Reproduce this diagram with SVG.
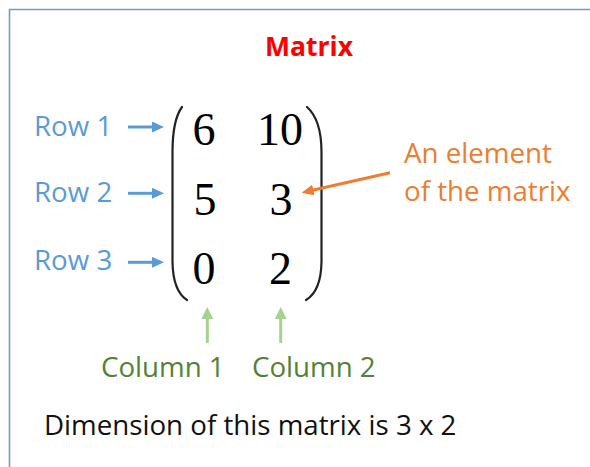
<svg xmlns="http://www.w3.org/2000/svg" width="590" height="467" viewBox="0 0 590 467">
  <style>
    .t { font-family: "Open Sans", "Noto Sans", "Liberation Sans", sans-serif; font-size: 27.7px; }
    .title { font-family: "Open Sans", "Noto Sans", "Liberation Sans", sans-serif; font-size: 26.5px; font-weight: bold; fill: #ff0000; }
    .blue { fill: #5b9bd5; }
    .orange { fill: #ed7d31; }
    .green { fill: #548235; }
    .black { fill: #111111; }
    .num { font-family: "Liberation Serif", "Times New Roman", serif; font-size: 46px; fill: #000000; text-anchor: middle; }
    .paren { fill: none; stroke: #222222; stroke-width: 2.2; stroke-linecap: round; }
    .arrB { stroke: #5b9bd5; stroke-width: 3; fill: none; marker-end: url(#headB); }
    .arrO { stroke: #ed7d31; stroke-width: 3; fill: none; marker-end: url(#headO); }
    .arrG { stroke: #a9d18e; stroke-width: 3; fill: none; marker-end: url(#headG); }
  </style>
  <defs>
    <marker id="headB" markerUnits="userSpaceOnUse" markerWidth="12" markerHeight="11" refX="1" refY="5.5" orient="auto">
      <path d="M0,0 L12,5.5 L0,11 z" fill="#5b9bd5"/>
    </marker>
    <marker id="headO" markerUnits="userSpaceOnUse" markerWidth="12" markerHeight="11" refX="1" refY="5.5" orient="auto">
      <path d="M0,0 L12,5.5 L0,11 z" fill="#ed7d31"/>
    </marker>
    <marker id="headG" markerUnits="userSpaceOnUse" markerWidth="12" markerHeight="12" refX="1" refY="6" orient="auto">
      <path d="M0,0 L12,6 L0,12 z" fill="#a9d18e"/>
    </marker>
  </defs>
  <rect x="0" y="0" width="590" height="467" fill="#ffffff"/>
  <path d="M9.5,467 L9.5,9.5 L590,9.5" fill="none" stroke="#7a9abb" stroke-width="1.6"/>

  <g id="title">
    <text class="title" x="309" y="56" text-anchor="middle">Matrix</text>
  </g>

  <g id="matrix">
    <path class="paren" d="M182,107 Q172.5,120 172.5,152 L172.5,262 Q173,291 187,300"/>
    <path class="paren" d="M307,107 Q321.5,120 321.5,152 L321.5,262 Q321,291 306,300"/>
    <text class="num" x="204" y="145">6</text>
    <text class="num" x="280" y="145">10</text>
    <text class="num" x="205" y="215">5</text>
    <text class="num" x="281" y="215">3</text>
    <text class="num" x="204" y="284">0</text>
    <text class="num" x="280.5" y="284">2</text>
  </g>

  <g id="row1"><text class="t blue" x="34" y="136">Row 1</text></g>
  <g id="row2"><text class="t blue" x="34" y="201.5">Row 2</text></g>
  <g id="row3"><text class="t blue" x="34" y="270">Row 3</text></g>

  <g id="element-label">
    <text class="t orange" x="404" y="163">An element</text>
    <text class="t orange" x="404" y="201">of the matrix</text>
  </g>

  <g id="col1"><text class="t green" x="101" y="377">Column 1</text></g>
  <g id="col2"><text class="t green" x="252" y="377">Column 2</text></g>

  <g id="dimension"><text class="t black" x="44" y="435">Dimension of this matrix is 3 x 2</text></g>

  <g id="connectors">
    <line class="arrB" x1="128" y1="127" x2="153" y2="127"/>
    <line class="arrB" x1="128" y1="193.3" x2="153" y2="193.3"/>
    <line class="arrB" x1="128" y1="262.3" x2="153" y2="262.3"/>
    <line class="arrO" x1="390" y1="172.7" x2="312.4" y2="190.3"/>
    <line class="arrG" x1="207.3" y1="343" x2="207.3" y2="318"/>
    <line class="arrG" x1="280.7" y1="343" x2="280.7" y2="318"/>
  </g>
</svg>
